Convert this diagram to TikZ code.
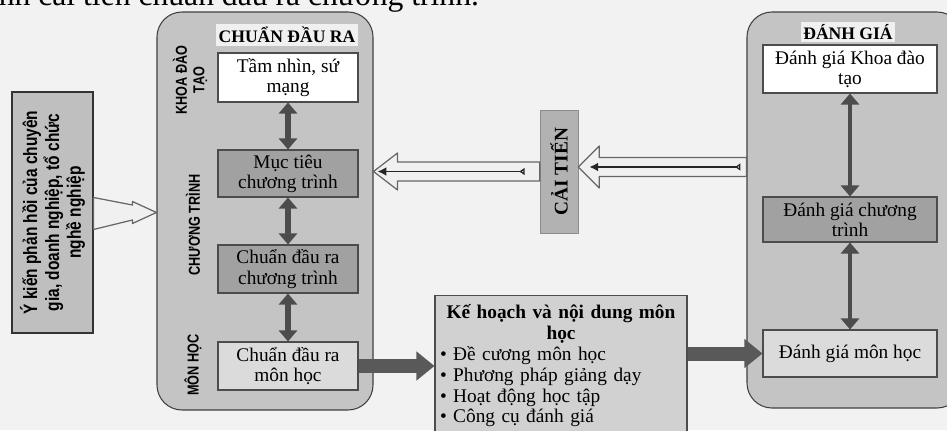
\documentclass[tikz,border=0pt]{standalone}
\usepackage{fontspec}
\setmainfont{Liberation Serif}
\newfontfamily\narrowsans[FakeStretch=0.8]{Liberation Sans}
\usetikzlibrary{arrows.meta,positioning,calc}

\tikzset{
  panel/.style={draw=black!75, fill=black!23, rounded corners=0.5cm, line width=0.6pt},
  paneltitle/.style={font=\fontsize{10}{12}\selectfont\bfseries, fill=black!6, inner sep=1.5pt},
  sidelabel/.style={rotate=90, align=center, font=\narrowsans\bfseries\fontsize{9}{10}\selectfont},
  stage/.style={draw=black!70, line width=0.6pt, align=center, inner sep=1pt, font=\fontsize{11}{11.5}\selectfont},
  lightstage/.style={stage, fill=white},
  darkstage/.style={stage, fill=black!37},
  softstage/.style={stage, fill=black!14},
  twoway/.style={{Triangle[width=0.36cm,length=0.22cm]}-{Triangle[width=0.36cm,length=0.22cm]}, line width=0.11cm, draw=black!70},
  flowarrow/.style={-{Triangle[width=0.56cm,length=0.36cm]}, line width=0.28cm, draw=black!65},
  hollow/.style={draw=black!60, fill=black!6, line width=0.7pt, line join=round},
  thinarrow/.style={{Triangle[open,reversed,length=3pt,width=4pt]}-{Latex[length=5pt,width=5pt]}, line width=0.9pt, draw=black!85}
}

\begin{document}
\begin{tikzpicture}
  \fill[black!5] (0,0) rectangle (18.94,8.6);
  \useasboundingbox (0,0) rectangle (18.94,8.6);
  %% cut-off line of the page above
  \node[anchor=base west, inner sep=0pt, font=\fontsize{18}{20}\selectfont] (toptext) at (-0.03,8.49) {nh cải tiến chuẩn đầu ra chương trình.};

  %% feedback box
  \node[draw=black!80, fill=black!25, line width=0.6pt, minimum width=1.62cm, minimum height=4.82cm] (fb) at (1.05,4.35) {};
  \node[rotate=90, align=center, font=\narrowsans\bfseries\fontsize{11}{12.5}\selectfont] (fbtext) at (fb) {Ý kiến phản hồi của chuyên\\gia, doanh nghiệp, tổ chức\\nghề nghiệp};

  %% CHUAN DAU RA column
  \node[panel, minimum width=4.32cm, minimum height=7.96cm] (cdr) at (5.30,4.38) {};
  \node[paneltitle] (cdrtitle) at (5.74,7.90) {CHUẨN ĐẦU RA};
  \node[sidelabel] (lbkhoa) at (3.80,7.00) {KHOA ĐÀO\\TẠO};
  \node[sidelabel] (lbct) at (3.86,4.10) {CHƯƠNG TRÌNH};
  \node[sidelabel] (lbmh) at (3.86,1.30) {MÔN HỌC};
  \node[lightstage, minimum width=2.8cm, minimum height=0.98cm] (tamnhin) at (5.76,7.05) {Tầm nhìn, sứ\\mạng};
  \node[darkstage, minimum width=2.8cm, minimum height=0.94cm] (muctieu) at (5.76,5.13) {Mục tiêu\\chương trình};
  \node[darkstage, minimum width=2.8cm, minimum height=0.96cm] (cdrct) at (5.76,3.22) {Chuẩn đầu ra\\chương trình};
  \node[softstage, minimum width=2.8cm, minimum height=0.96cm] (cdrmh) at (5.76,1.28) {Chuẩn đầu ra\\môn học};
  \draw[twoway] (tamnhin) -- (muctieu);
  \draw[twoway] (muctieu) -- (cdrct);
  \draw[twoway] (cdrct) -- (cdrmh);

  %% DANH GIA column
  \node[panel, minimum width=4.30cm, minimum height=7.92cm] (dg) at (17.09,4.40) {};
  \node[paneltitle] (dgtitle) at (16.96,7.96) {ĐÁNH GIÁ};
  \node[lightstage, minimum width=3.48cm, minimum height=0.96cm] (dgkhoa) at (17.00,7.22) {Đánh giá Khoa đào\\tạo};
  \node[darkstage, minimum width=3.48cm, minimum height=0.90cm] (dgct) at (17.00,4.21) {Đánh giá chương\\trình};
  \node[softstage, minimum width=3.48cm, minimum height=0.94cm] (dgmh) at (17.00,1.53) {Đánh giá môn học};
  \draw[twoway, line width=0.08cm] (dgkhoa) -- (dgct);
  \draw[twoway, line width=0.08cm] (dgct) -- (dgmh);

  %% CAI TIEN
  \node[draw=black!45, fill=black!30, minimum width=0.76cm, minimum height=2.46cm] (ct) at (11.18,5.17) {};
  \node[rotate=90, font=\fontsize{11}{12}\selectfont\bfseries] (cttext) at (ct) {CẢI TIẾN};

  %% Ke hoach box
  \node[draw=black!70, fill=black!18, line width=0.6pt, anchor=north, minimum width=5.04cm, minimum height=3.2cm] (kh) at (11.22,2.70) {};
  \node[anchor=north, text width=4.84cm, inner sep=0pt, font=\fontsize{11}{11.9}\selectfont] (khtext) at ($(kh.north)+(0,-0.18)$)
    {{\centering\bfseries Kế hoạch và nội dung môn\\học\par}
     \raggedright
     \textbullet~Đề cương môn học\\
     \textbullet~Phương pháp giảng dạy\\
     \textbullet~Hoạt động học tập\\
     \textbullet~Công cụ đánh giá\par};

  %% arrows
  \coordinate (fbtip) at (cdr.west |- fb.east);
  \draw[hollow] ($(fb.east)+(0,0.30)$) -- ($(fbtip)+(-0.48,0.15)$) -- ($(fbtip)+(-0.48,0.22)$) -- (fbtip)
    -- ($(fbtip)+(-0.48,-0.22)$) -- ($(fbtip)+(-0.48,-0.15)$) -- ($(fb.east)+(0,-0.34)$) -- cycle;
  \coordinate (ltip) at (cdr.east |- ct.west);
  \draw[hollow] ($(ct.west)+(0,0.19)$) -- ($(ltip)+(0.48,0.19)$) -- ($(ltip)+(0.48,0.37)$) -- (ltip)
    -- ($(ltip)+(0.48,-0.37)$) -- ($(ltip)+(0.48,-0.19)$) -- ($(ct.west)+(0,-0.19)$) -- cycle;
  \draw[thinarrow] ($(ct.west)+(-0.30,0)$) -- ($(ltip)+(0.08,0)$);
  \coordinate (rtip) at ($(ct.east)+(0,0.09)$);
  \coordinate (rtail) at (dg.west |- rtip);
  \draw[hollow] ($(rtail)+(0,0.19)$) -- ($(rtip)+(0.42,0.19)$) -- ($(rtip)+(0.42,0.42)$) -- (rtip)
    -- ($(rtip)+(0.42,-0.42)$) -- ($(rtip)+(0.42,-0.19)$) -- ($(rtail)+(0,-0.19)$) -- cycle;
  \draw[thinarrow] ($(rtail)+(-0.12,0)$) -- ($(rtip)+(0.22,0)$);
  \draw[flowarrow] (cdrmh.east) -- (cdrmh.east -| kh.west);
  \draw[flowarrow] (kh.east |- dgmh.west) -- (dgmh.west);
\end{tikzpicture}
\end{document}
